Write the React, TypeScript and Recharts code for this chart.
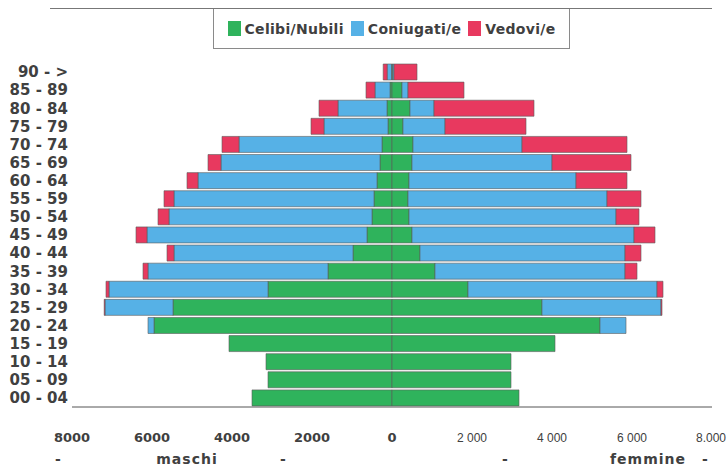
import React from 'react';
import { BarChart, Bar, XAxis, YAxis } from 'recharts';

// fasce d'età, dall'alto verso il basso
const ageGroups = [
  '90 - >', '85 - 89', '80 - 84', '75 - 79', '70 - 74', '65 - 69', '60 - 64',
  '55 - 59', '50 - 54', '45 - 49', '40 - 44', '35 - 39', '30 - 34', '25 - 29',
  '20 - 24', '15 - 19', '10 - 14', '05 - 09', '00 - 04',
];

// maschi
const maleCelibi = [10, 50, 125, 100, 250, 300, 375, 450, 500, 625, 975, 1600, 3100, 5475, 5950, 4075, 3150, 3100, 3500];
const maleConiugati = [110, 375, 1225, 1600, 3575, 3975, 4475, 5000, 5075, 5500, 4475, 4500, 3975, 1700, 150, 0, 0, 0, 0];
const maleVedovi = [100, 225, 475, 325, 425, 325, 275, 250, 275, 275, 175, 125, 75, 20, 0, 0, 0, 0, 0];

// femmine
const femaleNubili = [20, 250, 450, 275, 525, 500, 425, 400, 425, 500, 700, 1075, 1900, 3750, 5200, 4075, 2975, 2975, 3175];
const femaleConiugate = [30, 150, 600, 1050, 2725, 3500, 4175, 4975, 5175, 5550, 5125, 4750, 4725, 2975, 650, 0, 0, 0, 0];
const femaleVedove = [575, 1400, 2500, 2025, 2625, 1975, 1275, 850, 575, 525, 400, 300, 150, 25, 0, 0, 0, 0, 0];

const xTicks = [-8000, -6000, -4000, -2000, 0, 2000, 4000, 6000, 8000];
const xTickLabels = ['8000', '6000', '4000', '2000', '0', '2 000', '4 000', '6 000', '8.000'];

const legendItems = [
  { name: 'Celibi/Nubili', color: '#2fb35c' },
  { name: 'Coniugati/e', color: '#56b1e6' },
  { name: 'Vedovi/e', color: '#e8395f' },
];

const data = ageGroups.map((age, i) => ({
  age,
  mCel: -maleCelibi[i],
  mCon: -maleConiugati[i],
  mVed: -maleVedovi[i],
  fNub: femaleNubili[i],
  fCon: femaleConiugate[i],
  fVed: femaleVedove[i],
}));

const labelColor = '#404040';

function XTick(props: any) {
  const { x, y, payload } = props;
  const idx = xTicks.indexOf(payload.value);
  const right = payload.value > 0;
  return (
    <text
      x={x}
      y={y + 33}
      textAnchor="middle"
      fontSize={right ? 12 : 13}
      fontWeight={right ? 'normal' : 'bold'}
      fontFamily={right ? 'Liberation Sans, Arial' : 'DejaVu Sans, sans-serif'}
      fill={labelColor}
    >
      {xTickLabels[idx]}
    </text>
  );
}

const barStroke = '#5a5a5a';

export default function App() {
  return (
    <div style={{ position: 'absolute', left: 0, top: 0, width: 727, height: 467, background: '#fff', fontFamily: 'DejaVu Sans, sans-serif' }}>
      <div style={{ position: 'absolute', left: 50, top: 8, width: 662, height: 0, borderTop: '1px solid #777' }} />
      <div
        style={{
          position: 'absolute', left: 213, top: 9, width: 357, height: 40,
          border: '1px solid #8a8a8a', borderTop: 'none', boxSizing: 'border-box',
          display: 'flex', alignItems: 'center', justifyContent: 'center', gap: 7,
        }}
      >
        {legendItems.map((it) => (
          <div key={it.name} style={{ display: 'flex', alignItems: 'center' }}>
            <span style={{ display: 'inline-block', width: 13, height: 15, background: it.color, marginRight: 4 }} />
            <span style={{ fontSize: 14, fontWeight: 'bold', color: labelColor, letterSpacing: 0.3 }}>{it.name}</span>
          </div>
        ))}
      </div>

      <BarChart
        width={727}
        height={467}
        data={data}
        layout="vertical"
        stackOffset="sign"
        barSize={16}
        margin={{ top: 63, right: 15, bottom: 30, left: 0 }}
      >
        <XAxis
          type="number"
          domain={[-8000, 8000]}
          ticks={xTicks}
          tickLine={false}
          tickSize={0}
          height={30}
          axisLine={{ stroke: '#555' }}
          tick={<XTick />}
        />
        <YAxis
          type="category"
          dataKey="age"
          width={72}
          axisLine={false}
          tickLine={false}
          tickMargin={-2}
          interval={0}
          tick={{ fontSize: 15, fontWeight: 'bold', fill: labelColor, fontFamily: 'DejaVu Sans, sans-serif' }}
        />
        <Bar dataKey="mCel" stackId="a" fill={legendItems[0].color} stroke={barStroke} strokeWidth={0.6} isAnimationActive={false} />
        <Bar dataKey="mCon" stackId="a" fill={legendItems[1].color} stroke={barStroke} strokeWidth={0.6} isAnimationActive={false} />
        <Bar dataKey="mVed" stackId="a" fill={legendItems[2].color} stroke={barStroke} strokeWidth={0.6} isAnimationActive={false} />
        <Bar dataKey="fNub" stackId="a" fill={legendItems[0].color} stroke={barStroke} strokeWidth={0.6} isAnimationActive={false} />
        <Bar dataKey="fCon" stackId="a" fill={legendItems[1].color} stroke={barStroke} strokeWidth={0.6} isAnimationActive={false} />
        <Bar dataKey="fVed" stackId="a" fill={legendItems[2].color} stroke={barStroke} strokeWidth={0.6} isAnimationActive={false} />
      </BarChart>

      {[
        { t: '-', x: 58 }, { t: 'maschi', x: 187 }, { t: '-', x: 283 },
        { t: '-', x: 505 }, { t: 'femmine', x: 648 }, { t: '-', x: 705 },
      ].map((l, i) => (
        <div
          key={i}
          style={{
            position: 'absolute', top: 451, left: l.x - 50, width: 100, textAlign: 'center',
            fontSize: 14, fontWeight: 'bold', color: labelColor, letterSpacing: l.t === '-' ? 0 : 1,
          }}
        >
          {l.t}
        </div>
      ))}
    </div>
  );
}
